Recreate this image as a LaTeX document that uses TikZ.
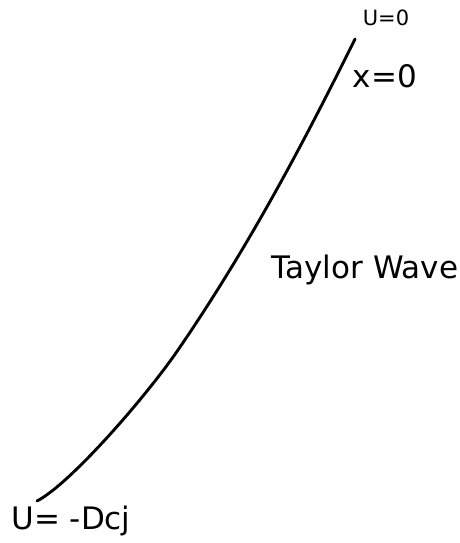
\documentclass[tikz,border=0pt]{standalone}
\usepackage{fontspec}
\setmainfont{DejaVu Sans}
\begin{document}
\begin{tikzpicture}[x=1pt,y=-1pt,
  big/.style={inner sep=0pt,font=\fontsize{31}{37}\selectfont},
  small/.style={inner sep=0pt,font=\fontsize{21}{25}\selectfont},
  wave/.style={line width=2.9pt,line cap=round}]
\useasboundingbox (0,0) rectangle (460,543);
\coordinate (top) at (355,39);
\coordinate (mid) at (178,350);
\coordinate (bot) at (37,501);
\draw[wave] (top) .. controls (305,140) and (250,245) .. (mid)
  .. controls (145,398) and (70,484) .. (bot);
\node[small] (u0) at (386,18) {U=0};
\node[big] (x0) at (385,76) {x=0};
\node[big] (tw) at (365,270) {Taylor Wave};
\node[big] (ud) at (71,521) {U= -Dcj};
\end{tikzpicture}
\end{document}
